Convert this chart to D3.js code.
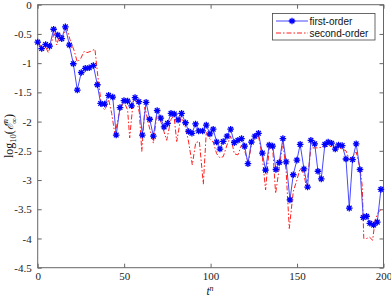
<!DOCTYPE html>
<html><head><meta charset="utf-8">
<script src="https://cdn.jsdelivr.net/npm/d3@7"></script>
<style>body{margin:0;background:#fff}svg{display:block}</style>
</head><body>
<svg id="c" width="391" height="296"></svg>
<script>
const xTicks = [0, 50, 100, 150, 200];
const yTicks = [0, -0.5, -1, -1.5, -2, -2.5, -3, -3.5, -4, -4.5];
const seriesNames = ["first-order", "second-order"];

const firstT = [0,2.3,4.6,6.9,9.2,11.6,13.9,16,18.3,20.6,22.9,25.2,27.5,29.8,32.2,34.5,36.4,38.7,41,43.4,45.4,47.6,49.9,52,54.3,56.3,58.5,60.5,62.7,64.8,66.9,69.1,71.2,73.1,75.1,77.1,79,81.2,83.2,85.5,87.3,89.2,91.3,93.1,95.4,97.5,99.6,101.5,103.5,105.4,107.3,109.5,111.6,113.7,115.8,117.9,119.7,121.6,123.6,125.6,127.7,129.9,131.8,133.9,135.9,137.8,139.7,141.8,143.7,145.9,147.8,149.9,151.8,154,156.1,158,160.2,162.1,164,166.1,168,170,172.1,174,176.1,178.3,180.2,182.1,184.2,186.4,188.3,190.2,192.1,194.3,196.4,198.5];
const firstV = [-0.64,-0.75,-0.68,-0.71,-0.42,-0.52,-0.58,-0.38,-0.69,-1.01,-1.46,-1.16,-1.09,-1.08,-1.04,-1.37,-1.69,-1.70,-1.55,-1.58,-2.23,-1.76,-1.64,-1.65,-1.73,-1.59,-1.66,-2.23,-1.67,-1.96,-2.25,-1.81,-1.94,-2.09,-2.03,-1.86,-1.87,-1.97,-1.86,-2.02,-2.17,-2.20,-2.04,-2.16,-2.16,-2.06,-2.21,-2.13,-2.35,-2.47,-2.34,-2.25,-2.13,-2.36,-2.32,-2.29,-2.42,-2.72,-2.35,-2.25,-2.20,-2.54,-2.83,-2.40,-2.42,-2.82,-2.70,-2.29,-2.69,-3.34,-2.91,-2.66,-2.39,-2.81,-3.12,-2.32,-2.38,-2.85,-2.98,-2.39,-2.35,-2.37,-2.47,-2.40,-2.41,-2.64,-3.48,-2.65,-2.38,-2.82,-3.64,-3.62,-3.74,-3.77,-3.72,-3.16];

const secondT = [0,2.3,4.6,6.1,7.5,9.6,11,12.9,14.5,16.8,18.7,21,22.9,24.9,26.8,28.5,30.5,33.1,34.5,35.5,37,38.9,41,42.8,44.7,47.6,49.9,52,53.2,55.3,57.3,58.8,60.2,62,64,66.9,68.8,71,73,74.6,77,78.8,80.4,83,85.5,87.3,89.4,91.4,93.5,95.8,97.5,99.6,101.5,103.5,105.4,107.3,109.5,111.6,113.7,115.8,117.9,119.7,121.8,123.6,125.6,127.7,129.9,131.8,133.9,135.9,137.6,139.7,141.8,143.7,145.5,147.8,149.9,151.8,154,155.5,158,160.2,162.1,164,166.1,168,170,172.1,174,176.1,178.3,180.2,182.1,184.2,186.4,187.7,188.6,190.2,192,193.7,195.2,197,198.5];
const secondV = [-0.66,-0.72,-0.72,-0.82,-0.70,-0.47,-0.69,-0.50,-0.55,-0.40,-0.60,-0.78,-0.98,-0.92,-0.80,-0.82,-0.80,-0.76,-1.15,-1.40,-1.75,-1.80,-1.62,-1.86,-2.23,-1.78,-1.66,-1.80,-2.28,-1.63,-1.65,-1.85,-2.51,-1.75,-2.03,-2.37,-1.89,-1.98,-2.17,-2.32,-1.97,-1.89,-2.34,-1.90,-2.10,-2.35,-2.74,-2.36,-2.34,-3.07,-2.18,-2.30,-2.35,-2.55,-2.62,-2.60,-2.40,-2.25,-2.55,-2.57,-2.40,-2.50,-2.71,-2.40,-2.28,-2.25,-2.60,-3.17,-2.45,-2.45,-3.23,-2.80,-2.35,-2.85,-3.83,-3.20,-3.00,-2.80,-2.90,-3.14,-2.45,-2.45,-2.45,-2.44,-2.43,-2.42,-2.43,-2.44,-2.45,-2.47,-2.50,-2.65,-2.60,-2.52,-2.80,-3.10,-4.00,-4.00,-3.98,-4.03,-3.68,-3.55,-3.51];

const svg = d3.select("#c");
const L = 37.7, R = 383.5, T = 4.7, B = 267.7;
const x = d3.scaleLinear().domain([0, 200]).range([L, R]);
const y = d3.scaleLinear().domain([-4.5, 0]).range([B, T]);
const axisColor = "#666";
const serif = "'Liberation Serif','DejaVu Serif',serif";

svg.append("rect").attr("x", L).attr("y", T).attr("width", R - L).attr("height", B - T)
  .attr("fill", "#fff").attr("stroke", axisColor).attr("stroke-width", 1);

function styleAxis(g, labels) {
  g.select(".domain").remove();
  g.selectAll(".tick line").attr("stroke", axisColor);
  g.selectAll(".tick text").attr("font-family", serif).attr("font-size", 11).attr("fill", "#222");
  if (!labels) g.selectAll(".tick text").remove();
}
svg.append("g").attr("transform", `translate(0,${B})`)
  .call(d3.axisBottom(x).tickValues(xTicks).tickSize(-4).tickPadding(5).tickFormat(d3.format("d")))
  .call(g => styleAxis(g, true));
svg.append("g").attr("transform", `translate(0,${T})`)
  .call(d3.axisTop(x).tickValues(xTicks).tickSize(-4).tickFormat(""))
  .call(g => styleAxis(g, false));
svg.append("g").attr("transform", `translate(${L},0)`)
  .call(d3.axisLeft(y).tickValues(yTicks).tickSize(-4).tickPadding(6).tickFormat(d => d === 0 ? "0" : String(d)))
  .call(g => styleAxis(g, true));
svg.append("g").attr("transform", `translate(${R},0)`)
  .call(d3.axisRight(y).tickValues(yTicks).tickSize(-4).tickFormat(""))
  .call(g => styleAxis(g, false));

const line = d3.line().x(d => x(d[0])).y(d => y(d[1]));
const firstData = firstT.map((t, i) => [t, firstV[i]]);
const secondData = secondT.map((t, i) => [t, secondV[i]]);

svg.append("path").datum(secondData).attr("d", line).attr("fill", "none")
  .attr("stroke", "#ff2020").attr("stroke-width", 1).attr("stroke-dasharray", "5,2,1.5,2");
svg.append("path").datum(firstData).attr("d", line).attr("fill", "none")
  .attr("stroke", "#4848ff").attr("stroke-width", 1);

const star = (cx, cy, r) => {
  let p = "";
  for (let k = 0; k < 4; k++) {
    const a = k * Math.PI / 4;
    const dx = r * Math.cos(a), dy = r * Math.sin(a);
    p += `M${cx - dx},${cy - dy}L${cx + dx},${cy + dy}`;
  }
  return p;
};
svg.append("g").selectAll("path").data(firstData).join("path")
  .attr("d", d => star(x(d[0]), y(d[1]), 3.3))
  .attr("stroke", "#0000ff").attr("stroke-width", 1.3).attr("fill", "none");

// legend
const lg = svg.append("g");
lg.append("rect").attr("x", 272.5).attr("y", 13.5).attr("width", 102.5).attr("height", 26.5)
  .attr("fill", "#fff").attr("stroke", "#444").attr("stroke-width", 0.8);
lg.append("line").attr("x1", 276).attr("x2", 308).attr("y1", 21).attr("y2", 21)
  .attr("stroke", "#4848ff").attr("stroke-width", 1);
lg.append("path").attr("d", star(292, 21, 3.3)).attr("stroke", "#0000ff").attr("stroke-width", 1.3);
lg.append("line").attr("x1", 276).attr("x2", 308).attr("y1", 33).attr("y2", 33)
  .attr("stroke", "#ff2020").attr("stroke-width", 1).attr("stroke-dasharray", "5,2,1.5,2");
lg.selectAll("text.lt").data(seriesNames).join("text")
  .attr("x", 309.5).attr("y", (d, i) => 24.5 + i * 12)
  .attr("font-family", "'Liberation Sans',Arial,sans-serif").attr("font-size", 10)
  .attr("fill", "#111").text(d => d);

// axis labels
const xl = svg.append("text").attr("x", 210).attr("y", 295).attr("text-anchor", "middle")
  .attr("font-family", serif).attr("font-size", 11.5).attr("fill", "#111");
xl.append("tspan").attr("font-style", "italic").text("t");
xl.append("tspan").attr("font-style", "italic").attr("font-size", 8).attr("dy", -4.5).text("n");

const yl = svg.append("text").attr("transform", "translate(13,136) rotate(-90)")
  .attr("text-anchor", "middle").attr("font-family", serif).attr("font-size", 12).attr("fill", "#111");
yl.append("tspan").text("log");
yl.append("tspan").attr("font-size", 8.5).attr("dy", 3).text("10");
yl.append("tspan").attr("dy", -3).text("(");
yl.append("tspan").attr("font-style", "italic").text("ℰ");
yl.append("tspan").attr("font-style", "italic").attr("font-size", 8.5).attr("dy", -5).text("n");
yl.append("tspan").attr("font-size", 8.5).attr("dx", -5).attr("dy", 8.5).text("∞");
yl.append("tspan").attr("dy", -3.5).text(")");
</script>
</body></html>
